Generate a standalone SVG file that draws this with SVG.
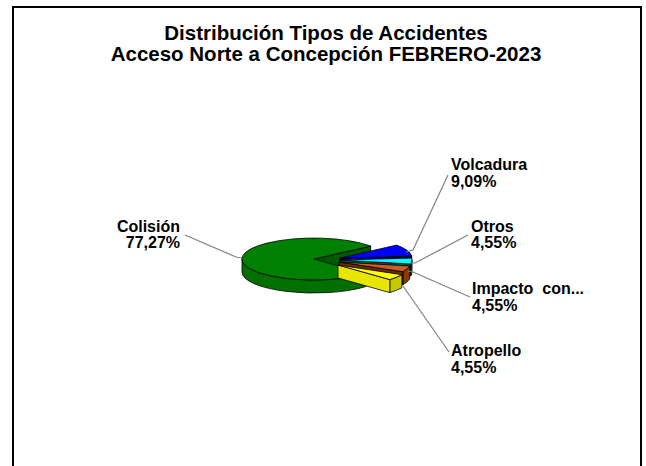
<svg xmlns="http://www.w3.org/2000/svg" width="646" height="466" viewBox="0 0 646 466">
<style>
.t{font-family:"Liberation Sans",Arial,sans-serif;font-weight:bold;font-size:20.5px;fill:#000}
.l{font-family:"Liberation Sans",Arial,sans-serif;font-weight:bold;font-size:16px;fill:#000}
.s{stroke:#000;stroke-width:0.8;stroke-linejoin:round}
.ld{fill:none;stroke:#808080;stroke-width:1.2}
</style>
<rect x="0" y="0" width="646" height="466" fill="#fff"/>
<rect x="13" y="7" width="628" height="470" fill="#fff" stroke="#000" stroke-width="2"/>
<g id="title">
<text class="t" x="326" y="40" text-anchor="middle">Distribución Tipos de Accidentes</text>
<text class="t" x="326" y="61" text-anchor="middle">Acceso Norte a Concepción FEBRERO-2023</text>
</g>
<g id="slice-colision">
<path class="s" fill="#005a00" d="M314,259 L370.7,246.1 L370.7,258.1 L314,271 Z"/>
<path class="s" fill="#007000" d="M365.8,273.6 A72,21 0 0,1 242,259 L242,272 A72,21 0 0,0 365.8,286.6 Z"/>
<path class="s" fill="#008000" d="M314,259 L365.8,273.6 A72,21 0 1,1 370.7,246.1 Z"/>
</g>
<g id="slice-volcadura">
<path class="s" fill="#000060" d="M340,258 L411.7,256.1 L411.7,268.1 L340,270 Z"/>
<path class="s" fill="#0000ff" d="M340,258 L396.7,245.1 A72,21 0 0,1 411.7,256.1 Z"/>
</g>
<g id="slice-otros">
<path class="s" fill="#007070" d="M412,260 A72,21 0 0,1 410.7,264 L410.7,276 A72,21 0 0,0 412,272 Z"/>
<path class="s" fill="#005050" d="M340,260 L410.7,264 L410.7,276 L340,272 Z"/>
<path class="s" fill="#00ffff" d="M340,260 L411.7,258.1 A72,21 0 0,1 410.7,264 Z"/>
</g>
<g id="slice-impacto">
<path class="s" fill="#8a3a00" d="M409.7,266 A72,21 0 0,1 402.9,271.7 L402.9,284.7 A72,21 0 0,0 409.7,279 Z"/>
<path class="s" fill="#6a2a00" d="M339,262 L402.9,271.7 L402.9,284.7 L339,275 Z"/>
<path class="s" fill="#cc6020" d="M339,262 L409.7,266 A72,21 0 0,1 402.9,271.7 Z"/>
</g>
<g id="slice-atropello">
<path class="s" fill="#c8c800" d="M401.9,274.7 A72,21 0 0,1 389.8,279.6 L389.8,292.6 A72,21 0 0,0 401.9,287.7 Z"/>
<path class="s" fill="#e6e600" d="M338,265 L389.8,279.6 L389.8,292.6 L338,278 Z"/>
<path class="s" fill="#ffff00" d="M338,265 L401.9,274.7 A72,21 0 0,1 389.8,279.6 Z"/>
</g>
<g id="connectors">
<polyline class="ld" points="185,235 236,257 242,258"/>
<polyline class="ld" points="448,175 413,250 406,252"/>
<polyline class="ld" points="468,235 415,263 410,263"/>
<polyline class="ld" points="470,297 413,272 408,271"/>
<polyline class="ld" points="449,352 403,286"/>
</g>
<g id="label-colision">
<text class="l" x="180" y="232" text-anchor="end">Colisión</text>
<text class="l" x="180" y="248" text-anchor="end">77,27%</text>
</g>
<g id="label-volcadura">
<text class="l" x="451" y="170">Volcadura</text>
<text class="l" x="451" y="187">9,09%</text>
</g>
<g id="label-otros">
<text class="l" x="471" y="232">Otros</text>
<text class="l" x="471" y="248">4,55%</text>
</g>
<g id="label-impacto">
<text class="l" x="472" y="294" xml:space="preserve">Impacto  con...</text>
<text class="l" x="472" y="311">4,55%</text>
</g>
<g id="label-atropello">
<text class="l" x="451" y="356">Atropello</text>
<text class="l" x="451" y="373">4,55%</text>
</g>
</svg>
